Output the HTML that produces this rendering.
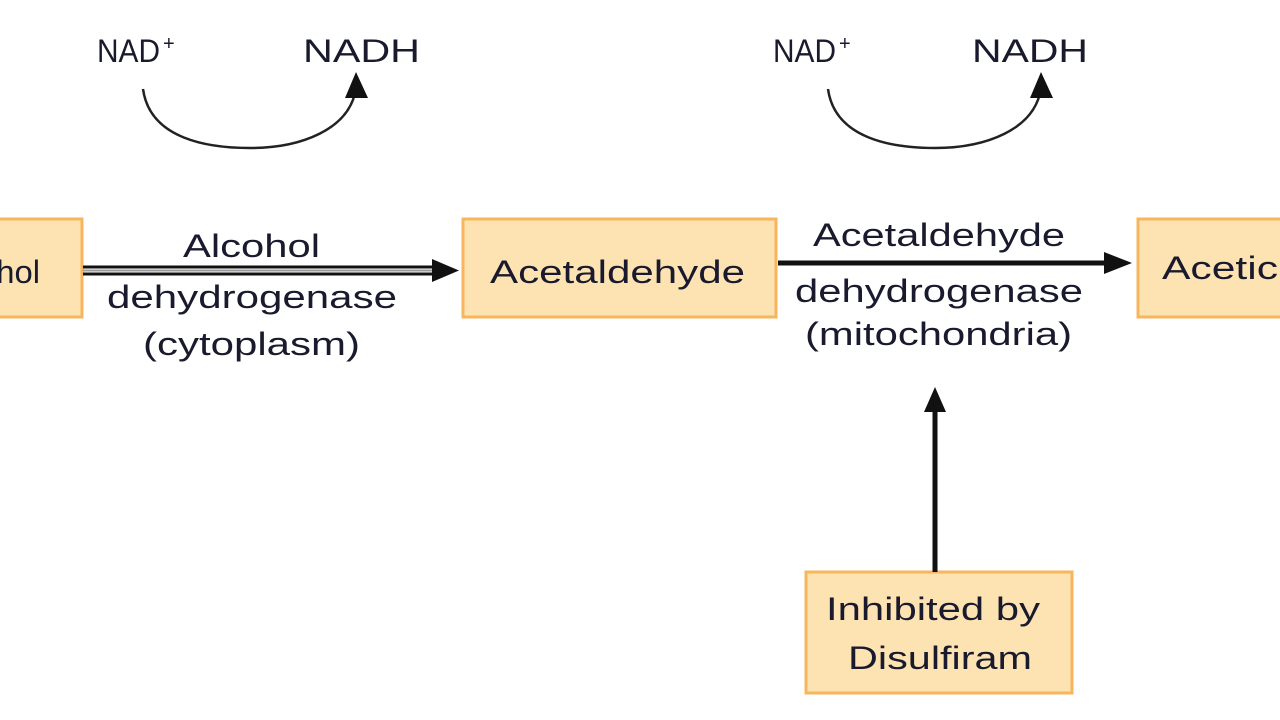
<!DOCTYPE html>
<html><head><style>
html,body{margin:0;padding:0;background:#fff;}
svg{display:block}
text{font-family:"Liberation Sans",Arial,sans-serif;fill:#1a1a2e;}
</style></head><body>
<svg width="1280" height="720" viewBox="0 0 1280 720" xmlns="http://www.w3.org/2000/svg">
<g fill="#fde2b2" stroke="#f7b55c" stroke-width="3">
<rect x="-10" y="219" width="92" height="98"/>
<rect x="463" y="219" width="313" height="98"/>
<rect x="1138" y="219" width="160" height="98"/>
<rect x="806" y="572" width="266" height="121"/>
</g>
<g font-size="32">
<text x="-22" y="283" textLength="62" lengthAdjust="spacingAndGlyphs">ohol</text>
<text x="490" y="283" textLength="255" lengthAdjust="spacingAndGlyphs">Acetaldehyde</text>
<text x="1162" y="279" textLength="116" lengthAdjust="spacingAndGlyphs">Acetic</text>
<text x="826" y="620" textLength="214" lengthAdjust="spacingAndGlyphs">Inhibited by</text>
<text x="848" y="669" textLength="184" lengthAdjust="spacingAndGlyphs">Disulfiram</text>
<text x="97" y="62" textLength="63" lengthAdjust="spacingAndGlyphs">NAD</text><text x="163" y="50" font-size="20">+</text>
<text x="303" y="62" textLength="117" lengthAdjust="spacingAndGlyphs">NADH</text>
<text x="773" y="62" textLength="63" lengthAdjust="spacingAndGlyphs">NAD</text><text x="839" y="50" font-size="20">+</text>
<text x="972" y="62" textLength="116" lengthAdjust="spacingAndGlyphs">NADH</text>
<text x="183" y="257" textLength="137" lengthAdjust="spacingAndGlyphs">Alcohol</text>
<text x="107" y="308" textLength="290" lengthAdjust="spacingAndGlyphs">dehydrogenase</text>
<text x="143" y="355" textLength="217" lengthAdjust="spacingAndGlyphs">(cytoplasm)</text>
<text x="813" y="246" textLength="252" lengthAdjust="spacingAndGlyphs">Acetaldehyde</text>
<text x="795" y="302" textLength="288" lengthAdjust="spacingAndGlyphs">dehydrogenase</text>
<text x="805" y="345" textLength="267" lengthAdjust="spacingAndGlyphs">(mitochondria)</text>
</g>
<path d="M143,89 C150,140 210,148 250,148 C300,148 350,130 356,88" fill="none" stroke="#222" stroke-width="2.5"/>
<path d="M345,98 L356,72 L368,98 Z" fill="#111"/>
<path d="M828,89 C835,140 895,148 935,148 C985,148 1035,130 1041,88" fill="none" stroke="#222" stroke-width="2.5"/>
<path d="M1030,98 L1041,72 L1053,98 Z" fill="#111"/>
<line x1="83" y1="267" x2="445" y2="267" stroke="#111" stroke-width="3"/>
<line x1="83" y1="274" x2="445" y2="274" stroke="#111" stroke-width="3"/>
<line x1="83" y1="270.5" x2="445" y2="270.5" stroke="#999" stroke-width="2"/>
<path d="M432,259 L459,270.5 L432,282 Z" fill="#111"/>
<line x1="778" y1="263" x2="1110" y2="263" stroke="#111" stroke-width="5"/>
<path d="M1104,252 L1132,263 L1104,274 Z" fill="#111"/>
<line x1="935" y1="572" x2="935" y2="405" stroke="#111" stroke-width="5"/>
<path d="M924,412 L935,387 L946,412 Z" fill="#111"/>
</svg>
</body></html>
